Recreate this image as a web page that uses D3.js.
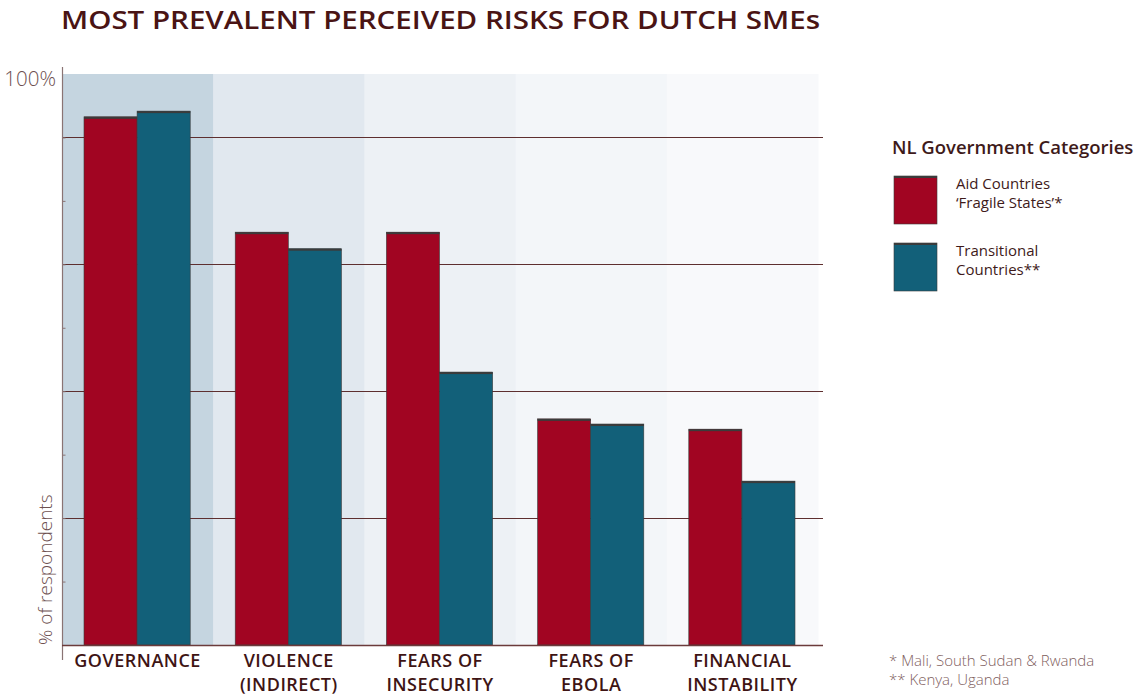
<!DOCTYPE html>
<html><head><meta charset="utf-8">
<script src="https://cdn.jsdelivr.net/npm/d3@7"></script>
<style>body{margin:0;background:#fff}svg{display:block}</style>
</head><body>
<svg id="c" width="1137" height="695"></svg>
<script>
const categories = [["GOVERNANCE"],["VIOLENCE","(INDIRECT)"],["FEARS OF","INSECURITY"],["FEARS OF","EBOLA"],["FINANCIAL","INSTABILITY"]];
const seriesNames = ["Aid Countries 'Fragile States'*","Transitional Countries**"];
const aidValues = [92.5, 72.3, 72.3, 39.6, 37.8];
const transitionalValues = [93.5, 69.4, 47.8, 38.7, 28.7];
const yTicks = [1,2,3,4,5,6,7,8].map(i => i*100/9);
const gridTicks = [2,4,6,8].map(i => i*100/9);
const bandColors = ["#c5d5e0","#e1e8ef","#edf1f5","#f3f6f9","#f8f9fb"];
const seriesColors = ["#a10522","#126079"];

(function(){
const svg = d3.select("#c");
const font = "'Open Sans', Lato, sans-serif";
const pL = 62, pR = 818, pT = 74, pB = 645;
const catKeys = categories.map(c => c.join(" "));
const x0 = d3.scaleBand().domain(catKeys).range([pL, pR]).padding(0);
const x1 = d3.scaleBand().domain([0,1]).range([22, x0.bandwidth()-23]).padding(0);
const y = d3.scaleLinear().domain([0,100]).range([pB, pT]);

// background bands
svg.append("g").selectAll("rect").data(catKeys).join("rect")
  .attr("x", d => x0(d)).attr("y", pT).attr("width", x0.bandwidth()+0.5)
  .attr("height", pB-pT).attr("fill", (d,i) => bandColors[i]);

// gridlines
svg.append("g").selectAll("line").data(gridTicks).join("line")
  .attr("x1", pL).attr("x2", 823).attr("y1", d => Math.round(y(d))+0.5).attr("y2", d => Math.round(y(d))+0.5)
  .attr("stroke", "#5e2f2f").attr("stroke-width", 1.2);

// bars
const rows = catKeys.map((k,i) => ({k, vals:[aidValues[i], transitionalValues[i]]}));
const g = svg.append("g").selectAll("g").data(rows).join("g").attr("transform", d => `translate(${x0(d.k)},0)`);
const bars = g.selectAll("g.bar").data(d => d.vals.map((v,j) => ({v,j}))).join("g").attr("class","bar");
bars.append("rect")
  .attr("x", d => x1(d.j)).attr("y", d => y(d.v)).attr("width", x1.bandwidth())
  .attr("height", d => pB - y(d.v)).attr("fill", d => seriesColors[d.j])
  .attr("stroke", "#3a3a3a").attr("stroke-width", 0.6);
bars.append("rect")
  .attr("x", d => x1(d.j)).attr("y", d => y(d.v)).attr("width", x1.bandwidth())
  .attr("height", 2).attr("fill", "#3b3b3b");

// y axis
const yAxis = d3.axisLeft(y).tickValues(yTicks).tickSize(3).tickFormat("");
const ya = svg.append("g").attr("transform", `translate(${pL+0.5},0)`).call(yAxis);
ya.select(".domain").remove();
ya.selectAll(".tick line").attr("stroke", "#8a7474").attr("x2", 3).attr("x1", 0);
svg.append("line").attr("x1", pL+0.5).attr("x2", pL+0.5).attr("y1", 67).attr("y2", 660)
  .attr("stroke", "#8a7474").attr("stroke-width", 1.2);
// baseline
svg.append("line").attr("x1", pL).attr("x2", 823).attr("y1", pB+0.5).attr("y2", pB+0.5)
  .attr("stroke", "#6b3b3b").attr("stroke-width", 1.3);

svg.append("text").attr("x", 56).attr("y", 86).attr("text-anchor","end")
  .attr("font-family", font).attr("font-weight", 300).attr("font-size", 20.5).attr("fill", "#6e5050").text("100%");
svg.append("text").attr("transform", "translate(52,645) rotate(-90)")
  .attr("font-family", font).attr("font-weight", 300).attr("font-size", 19).attr("fill", "#6e5050").text("% of respondents");

// x labels
const xl = svg.append("g").selectAll("text").data(categories).join("text")
  .attr("x", (d,i) => x0(catKeys[i]) + x0.bandwidth()/2).attr("y", 667)
  .attr("text-anchor","middle").attr("font-family", font).attr("font-weight", 600)
  .attr("font-size", 18).attr("letter-spacing", 0.5).attr("fill", "#3e1414");
xl.selectAll("tspan").data(d => d).join("tspan")
  .attr("x", function(){ return this.parentNode.getAttribute("x"); })
  .attr("dy", (d,i) => i ? 24 : 0).text(d => d);

// title
svg.append("text").attr("x", 61).attr("y", 29).attr("font-family", font).attr("font-weight", 600)
  .attr("font-size", 26).attr("fill", "#4a1414").attr("textLength", 759).attr("lengthAdjust","spacingAndGlyphs")
  .text("MOST PREVALENT PERCEIVED RISKS FOR DUTCH SMEs");

// legend
svg.append("text").attr("x", 892).attr("y", 154).attr("font-family", font).attr("font-weight", 600)
  .attr("font-size", 18.5).attr("fill", "#3e1a1a").text("NL Government Categories");
const legendLines = [["Aid Countries","\u2018Fragile States\u2019*"],["Transitional","Countries**"]];
const lg = svg.append("g").selectAll("g").data(seriesNames).join("g")
  .attr("transform", (d,i) => `translate(894,${176 + i*67})`);
lg.append("rect").attr("width", 43).attr("height", 48).attr("fill", (d,i) => seriesColors[i])
  .attr("stroke","#3a3a3a").attr("stroke-width",0.6);
lg.append("rect").attr("width", 43).attr("height", 2).attr("fill", "#3b3b3b");
const lt = lg.append("text").attr("x", 62).attr("y", 13).attr("font-family", font)
  .attr("font-size", 15).attr("fill", "#3e1a1a");
lt.selectAll("tspan").data((d,i) => legendLines[i]).join("tspan")
  .attr("x", 62).attr("dy", (d,i) => i ? 18.5 : 0).text(d => d);

// footnotes
const fn = svg.append("text").attr("x", 889).attr("y", 666).attr("font-family", font).attr("font-weight", 300)
  .attr("font-size", 15).attr("fill", "#806060");
fn.selectAll("tspan").data(["* Mali, South Sudan & Rwanda","** Kenya, Uganda"]).join("tspan")
  .attr("x", 889).attr("dy", (d,i) => i ? 19 : 0).text(d => d);
})();
</script>
</body></html>
